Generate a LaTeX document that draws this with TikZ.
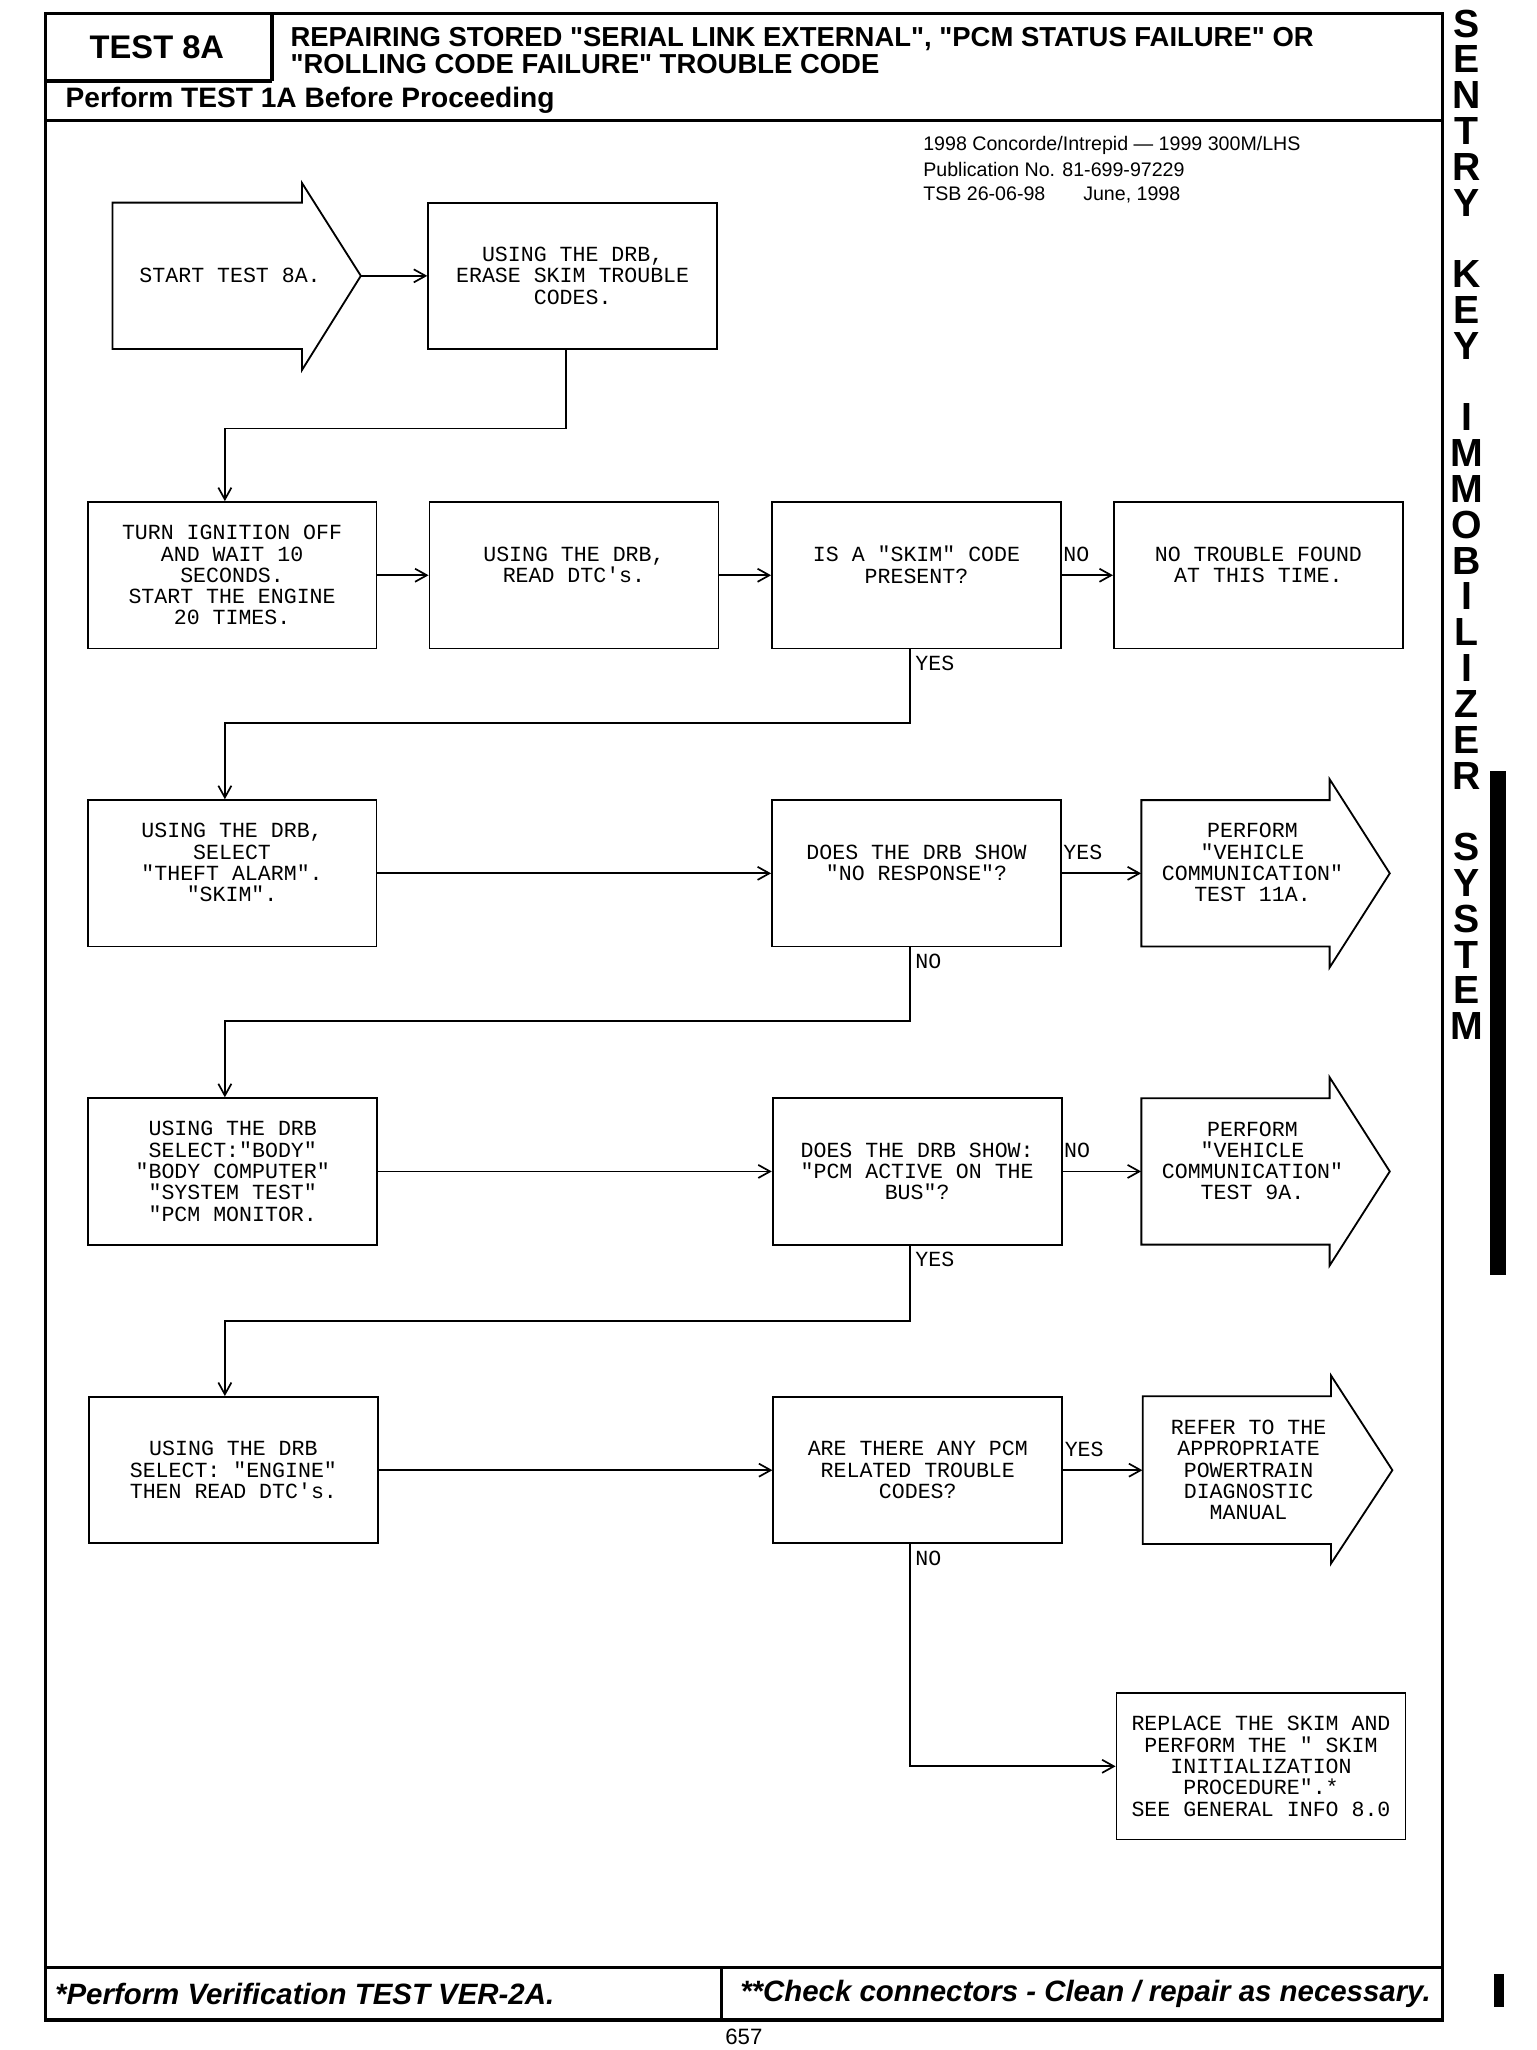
\documentclass[tikz,border=0pt]{standalone}
\usepackage{fontspec}
\setmainfont{Liberation Sans}
\newfontfamily\monof{Liberation Mono}
\newfontfamily\sansf{Liberation Sans}
\usetikzlibrary{arrows.meta}
\newcommand\bxfont{\monof\fontsize{16.5}{16.3}\selectfont\lineskiplimit=-100pt\lineskip=0pt}
\tikzset{
  frame/.style={line width=2.4pt},
  boxn/.style={draw, line width=1.4pt, minimum width=221pt, minimum height=112pt, inner sep=0pt, align=center, font=\bxfont},
  txtn/.style={inner sep=0pt, align=center, font=\bxfont},
  arrn/.style={inner sep=0pt, align=center, font=\bxfont, minimum height=112pt},
  lbl/.style={inner sep=0pt, font=\bxfont},
  conn/.style={line width=1.4pt, -{Straight Barb[length=9pt,width=10pt,line width=1.3pt]}},
  shp/.style={line width=1.4pt, line join=miter},
  side/.style={inner sep=0pt, font=\sansf\bfseries\fontsize{30}{30}\selectfont},
  hdr/.style={inner sep=0pt, font=\sansf\bfseries\fontsize{21}{21}\selectfont, anchor=base west},
  pub/.style={inner sep=0pt, font=\sansf\fontsize{15}{15}\selectfont, anchor=west},
  foot/.style={inner sep=0pt, font=\sansf\bfseries\itshape\fontsize{22.5}{22.5}\selectfont, anchor=west},
}
\begin{document}
\begin{tikzpicture}[x=1pt,y=-1pt]
\useasboundingbox (0,0) rectangle (1175,1568);
\clip (0,0) rectangle (1175,1568);
% frame and header
\draw[frame] (35,10) rectangle (1103,1545);
\draw[frame] (208,10) -- (208,62);
\draw[frame] (35,62) -- (208,62);
\draw[frame] (35,92) -- (1103,92);
\draw[frame] (35,1505) -- (1103,1505);
\draw[frame] (552,1505) -- (552,1545);
\node[inner sep=0pt, font=\sansf\bfseries\fontsize{25}{25}\selectfont] (t8a) at (120,36) {TEST 8A};
\node[hdr] (title1) at (222,35.5) {REPAIRING STORED "SERIAL LINK EXTERNAL", "PCM STATUS FAILURE" OR};
\node[hdr] (title2) at (222,56.5) {"ROLLING CODE FAILURE" TROUBLE CODE};
\node[inner sep=0pt, font=\sansf\bfseries\fontsize{21.5}{21.5}\selectfont, anchor=base west] (pre) at (50,82.5) {Perform TEST 1A Before Proceeding};
\node[pub] (pub1) at (706,111) {1998 Concorde/Intrepid — 1999 300M/LHS};
\node[pub] (pub2) at (706,130) {Publication No. 81-699-97229};
\node[pub] (pub3) at (706,149) {TSB 26-06-98\hspace{29pt}June, 1998};
\node[foot] (foot1) at (42,1525) {*Perform Verification TEST VER-2A.};
\node[foot] (foot2) at (566,1525) {**Check connectors - Clean / repair as necessary.};
\node[inner sep=0pt, font=\sansf\fontsize{17}{17}\selectfont, anchor=base] (pg) at (569,1564) {657};
% side text
\foreach \c [count=\i from 0] in {S,E,N,T,R,Y,~,K,E,Y,~,I,M,M,O,B,I,L,I,Z,E,R,~,S,Y,S,T,E,M}
  \node[side] (side\i) at (1122,{18+27.39*\i}) {\c};
\fill (1140,590) rectangle (1152,975);
\fill (1143,1510) rectangle (1150,1535);
% start arrow
\draw[shp] (86,155) -- (231,155) -- (231,140) -- (276,211) -- (231,283) -- (231,267) -- (86,267) -- cycle;
\node[txtn] (st) at (176,211) {START TEST 8A.};
\coordinate (sttip) at (276,211);
\node[boxn] (b2) at (438,211) {USING THE DRB,\\ERASE SKIM TROUBLE\\CODES.};
% row 2
\node[boxn] (a) at (177.5,440) {TURN IGNITION OFF\\AND WAIT 10\\SECONDS.\\START THE ENGINE\\20 TIMES.};
\node[boxn] (bb) at (439,440) {USING THE DRB,\\READ DTC's.\\\mbox{}};
\node[boxn] (c) at (701,440) {IS A "SKIM" CODE\\PRESENT?\\\mbox{}};
\node[boxn] (d) at (962.5,440) {NO TROUBLE FOUND\\AT THIS TIME.\\\mbox{}};
% row 3
\node[boxn] (e) at (177.5,668) {USING THE DRB,\\SELECT\\"THEFT ALARM".\\"SKIM".\\\mbox{}};
\node[boxn] (f) at (701,668) {DOES THE DRB SHOW\\"NO RESPONSE"?\\\mbox{}};
\draw[shp] (873,612) -- (1017,612) -- (1017,596) -- (1063,668) -- (1017,740) -- (1017,724) -- (873,724) -- cycle;
\node[arrn, minimum width=170pt] (g) at (958,668) {PERFORM\\"VEHICLE\\COMMUNICATION"\\TEST 11A.\\\mbox{}};
% row 4
\node[boxn] (h) at (178,896) {USING THE DRB\\SELECT:"BODY"\\"BODY COMPUTER"\\"SYSTEM TEST"\\"PCM MONITOR.};
\node[boxn] (i) at (701.5,896) {DOES THE DRB SHOW:\\"PCM ACTIVE ON THE\\BUS"?};
\draw[shp] (873,840) -- (1017,840) -- (1017,824) -- (1063,896) -- (1017,968) -- (1017,952) -- (873,952) -- cycle;
\node[arrn, minimum width=170pt] (j) at (958,896) {PERFORM\\"VEHICLE\\COMMUNICATION"\\TEST 9A.\\\mbox{}};
% row 5
\node[boxn] (k) at (178.5,1124.5) {USING THE DRB\\SELECT: "ENGINE"\\THEN READ DTC's.};
\node[boxn] (l) at (702,1124.5) {ARE THERE ANY PCM\\RELATED TROUBLE\\CODES?};
\draw[shp] (874,1068) -- (1018,1068) -- (1018,1052) -- (1065,1124.5) -- (1018,1196) -- (1018,1181) -- (874,1181) -- cycle;
\node[arrn, minimum width=162pt] (m) at (955,1124.5) {REFER TO THE\\APPROPRIATE\\POWERTRAIN\\DIAGNOSTIC\\MANUAL};
\node[boxn] (n) at (964.5,1351) {REPLACE THE SKIM AND\\PERFORM THE " SKIM\\INITIALIZATION\\PROCEDURE".*\\SEE GENERAL INFO 8.0};
% connectors
\draw[conn] (sttip) -- (b2.west);
\draw[conn] ([xshift=-5pt]b2.south) -- ++(0,60) -| ([xshift=-5.5pt]a.north);
\draw[conn] (a.east) -- (bb.west);
\draw[conn] (bb.east) -- (c.west);
\draw[conn] (c.east) -- (d.west);
\draw[conn] ([xshift=-5pt]c.south) -- ++(0,56) -| ([xshift=-5.5pt]e.north);
\draw[conn] (e.east) -- (f.west);
\draw[conn] (f.east) -- (g.west);
\draw[conn] ([xshift=-5pt]f.south) -- ++(0,56) -| ([xshift=-6pt]h.north);
\draw[conn] (h.east) -- (i.west);
\draw[conn] (i.east) -- (j.west);
\draw[conn] ([xshift=-5.5pt]i.south) -- ++(0,58) -| ([xshift=-6.5pt]k.north);
\draw[conn] (k.east) -- (l.west);
\draw[conn] (l.east) -- (m.west);
\draw[conn] ([xshift=-6pt]l.south) |- (n.west);
% labels
\node[lbl, anchor=west] (cno) at ([xshift=1pt,yshift=16pt]c.east) {NO};
\node[lbl, anchor=north west] (cyes) at ([xshift=-1pt,yshift=-5pt]c.south) {YES};
\node[lbl, anchor=west] (fyes) at ([xshift=1pt,yshift=16pt]f.east) {YES};
\node[lbl, anchor=north west] (fno) at ([xshift=-1pt,yshift=-5pt]f.south) {NO};
\node[lbl, anchor=west] (ino) at ([xshift=1pt,yshift=16pt]i.east) {NO};
\node[lbl, anchor=north west] (iyes) at ([xshift=-1.5pt,yshift=-5pt]i.south) {YES};
\node[lbl, anchor=west] (lyes) at ([xshift=1pt,yshift=16pt]l.east) {YES};
\node[lbl, anchor=north west] (lno) at ([xshift=-2pt,yshift=-5pt]l.south) {NO};
\end{tikzpicture}
\end{document}
